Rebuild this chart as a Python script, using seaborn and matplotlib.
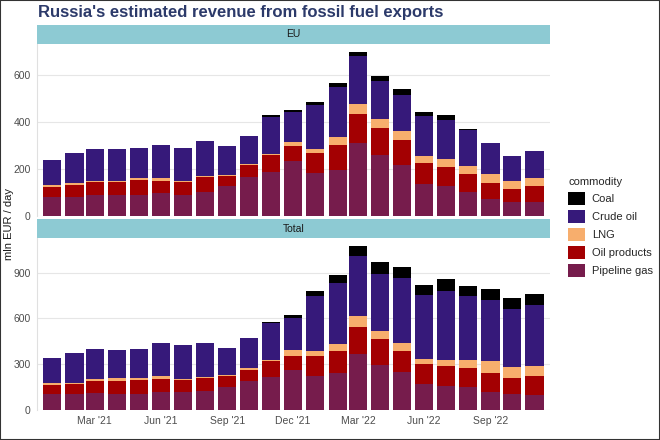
import numpy as np
import pandas as pd
import matplotlib
matplotlib.use("Agg")
import matplotlib.pyplot as plt
import matplotlib.dates as mdates
from matplotlib.patches import Patch, Rectangle
import seaborn as sns

# monthly values, Jan 2021 .. Nov 2022 (mln EUR / day)
months = pd.date_range("2021-01-01", "2022-11-01", freq="MS")

eu_pipeline = [83, 82, 90, 90, 91, 96, 91, 103, 126, 167, 189, 236, 184, 196, 310, 259, 217, 136, 126, 104, 73, 60, 59]
eu_oilprod = [41, 52, 54, 54, 63, 55, 53, 61, 45, 52, 70, 63, 85, 107, 123, 117, 106, 91, 84, 73, 67, 57, 67]
eu_lng = [6, 7, 6, 7, 7, 9, 5, 5, 5, 4, 5, 17, 17, 33, 43, 37, 38, 27, 31, 37, 39, 32, 34]
eu_crude = [109, 128, 136, 133, 129, 144, 140, 152, 120, 116, 159, 125, 185, 213, 204, 160, 155, 170, 169, 150, 131, 105, 116]
eu_coal = [0, 0, 0, 0, 0, 0, 0, 0, 0, 0, 8, 10, 12, 15, 17, 24, 25, 17, 19, 6, 0, 0, 0]

tot_pipeline = [103, 103, 112, 107, 107, 120, 116, 127, 153, 190, 217, 263, 226, 241, 368, 296, 247, 169, 160, 153, 120, 105, 99]
tot_oilprod = [61, 66, 78, 86, 88, 81, 81, 83, 68, 75, 103, 92, 127, 147, 179, 168, 143, 131, 127, 123, 121, 103, 124]
tot_lng = [13, 11, 11, 15, 15, 20, 9, 7, 11, 9, 8, 37, 32, 48, 66, 53, 52, 35, 39, 52, 79, 74, 68]
tot_crude = [167, 192, 200, 184, 193, 221, 223, 221, 177, 197, 241, 210, 359, 396, 394, 376, 423, 416, 451, 421, 400, 381, 399]
tot_coal = [0, 0, 0, 0, 0, 0, 0, 0, 0, 0, 9, 22, 33, 50, 66, 75, 72, 66, 81, 61, 70, 73, 68]

commodities = ["Coal", "Crude oil", "LNG", "Oil products", "Pipeline gas"]
colors = {
    "Coal": "#000000",
    "Crude oil": "#36197a",
    "LNG": "#f7ae6d",
    "Oil products": "#a30002",
    "Pipeline gas": "#761c4c",
}

panels = [
    ("EU", {"Pipeline gas": eu_pipeline, "Oil products": eu_oilprod, "LNG": eu_lng,
            "Crude oil": eu_crude, "Coal": eu_coal}, [0, 200, 400, 600]),
    ("Total", {"Pipeline gas": tot_pipeline, "Oil products": tot_oilprod, "LNG": tot_lng,
               "Crude oil": tot_crude, "Coal": tot_coal}, [0, 300, 600, 900]),
]

sns.set_style("white")
plt.rcParams["font.family"] = ["Liberation Sans", "DejaVu Sans"]

fig = plt.figure(figsize=(6.6, 4.4), dpi=100)
axes = [fig.add_axes([0.056, 0.509, 0.777, 0.391]),
        fig.add_axes([0.056, 0.068, 0.777, 0.391])]

x = mdates.date2num(months)
stackOrder = ["Pipeline gas", "Oil products", "LNG", "Crude oil", "Coal"]
halfWidth = 0.9 * 28 / 2

for ax, (name, vals, yticks) in zip(axes, panels):
    cum = np.cumsum([vals[c] for c in stackOrder], axis=0)
    # draw the tallest cumulative layer first, then overdraw lower ones
    for i in range(len(stackOrder) - 1, -1, -1):
        df = pd.DataFrame({"month": x, "value": cum[i]})
        sns.barplot(data=df, x="month", y="value", native_scale=True, orient="x",
                    color=colors[stackOrder[i]], saturation=1, width=0.9,
                    linewidth=0, errorbar=None, ax=ax)
    ymax = cum[-1].max() * 1.05
    ax.set_ylim(0, ymax)
    ax.set_xlim(x.min() - halfWidth - 8.5, x.max() + halfWidth + 8.5)
    ax.set_yticks(yticks)
    ax.set_xlabel("")
    ax.set_ylabel("")
    ax.grid(axis="y", color="#e6e6e6", linewidth=0.8)
    ax.set_axisbelow(True)
    for s in ["top", "right", "bottom"]:
        ax.spines[s].set_visible(False)
    ax.spines["left"].set_color("#e0e0e0")
    ax.spines["left"].set_linewidth(0.8)
    ax.tick_params(axis="y", labelsize=7.5, labelcolor="#4d4d4d", length=2.5,
                   color="#999999", pad=2)
    # facet strip
    stripH = 19 / 172
    ax.add_patch(Rectangle((0, 1), 1, stripH, transform=ax.transAxes,
                           facecolor="#8dcad3", edgecolor="none", clip_on=False))
    ax.text(0.5, 1 + stripH / 2, name, transform=ax.transAxes, ha="center",
            va="center", fontsize=7.5, color="#1a1a1a")

tickDates = pd.to_datetime(["2021-03-01", "2021-06-01", "2021-09-01", "2021-12-01",
                            "2022-03-01", "2022-06-01", "2022-09-01"])
tickLabels = ["Mar '21", "Jun '21", "Sep '21", "Dec '21", "Mar '22", "Jun '22", "Sep '22"]
for ax in axes:
    ax.set_xticks(mdates.date2num(tickDates))
axes[0].tick_params(axis="x", length=0, labelbottom=False)
axes[1].set_xticklabels(tickLabels)
axes[1].tick_params(axis="x", labelsize=7.5, labelcolor="#4d4d4d", length=2.5,
                    color="#999999", pad=2)

fig.text(0.014, 0.49, "mln EUR / day", rotation=90, ha="center", va="center",
         fontsize=8, color="#1a1a1a")
fig.text(0.058, 0.972, "Russia's estimated revenue from fossil fuel exports",
         ha="left", va="center", fontsize=12, fontweight="bold", color="#2c3a6a")

handles = [Patch(facecolor=colors[c], edgecolor="none", label=c) for c in commodities]
fig.legend(handles=handles, title="commodity", loc="upper left",
           bbox_to_anchor=(0.846, 0.62), frameon=False, fontsize=8,
           title_fontsize=8, handlelength=1.5, handleheight=1.5,
           handletextpad=0.6, labelspacing=0.4, alignment="left")

fig.patches.append(Rectangle((0, 0), 1, 1, transform=fig.transFigure,
                             facecolor="none", edgecolor="#333333", linewidth=1.5))

fig.savefig("out.png", dpi=100)
